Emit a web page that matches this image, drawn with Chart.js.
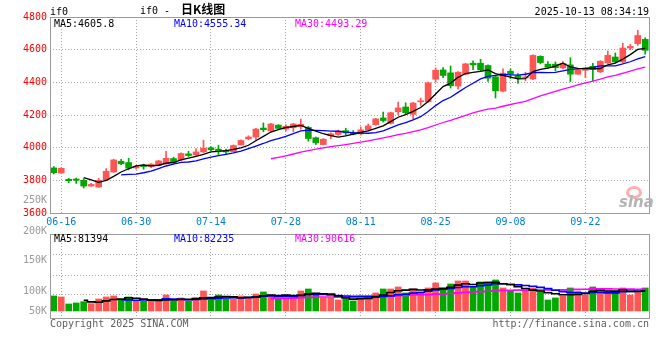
<!DOCTYPE html>
<html lang="zh">
  <head>
    <meta charset="UTF-8" />
    <title>if0 - 日K线图</title>
    <script src="https://cdn.jsdelivr.net/npm/chart.js"></script>
    <style>
      body { margin: 0; background: #fff; }
      #wrap {
        position: relative; width: 660px; height: 360px; overflow: hidden;
        font-family: "DejaVu Sans Mono", monospace; font-size: 10px; color: #000;
      }
      #priceChart { position: absolute; left: 0; top: 0; }
      #volChart { position: absolute; left: 0; top: 228px; }
      .txt { position: absolute; line-height: 12px; white-space: nowrap; }
      .cjk { font-family: "Noto Sans CJK SC", sans-serif; font-size: 12px; font-weight: bold; margin-left: 11px; }
      .blue { color: #0000ff; }
      .pink { color: #ff00ff; }
      .gray { color: #9a9a9a; }
      .foot { color: #606060; }
      #logo { position: absolute; left: 619px; top: 193px; font: italic bold 15px "DejaVu Sans", sans-serif; color: #b4b4b4; }
      #eye { position: absolute; left: 626px; top: 186px; width: 10px; height: 7px; border: 3px solid rgba(255, 110, 110, 0.55); border-radius: 50%; }
    </style>
  </head>
  <body>
    <div id="wrap">
      <canvas id="priceChart" width="660" height="230"></canvas>
      <canvas id="volChart" width="660" height="97"></canvas>

      <div class="txt" style="left:50px;top:6px">if0</div>
      <div class="txt" style="left:140px;top:3px">if0 -<span class="cjk">日K线图</span></div>
      <div class="txt" style="right:11px;top:6px">2025-10-13 08:34:19</div>

      <div class="txt" style="left:54px;top:18px">MA5:4605.8</div>
      <div class="txt blue" style="left:174px;top:18px">MA10:4555.34</div>
      <div class="txt pink" style="left:295px;top:18px">MA30:4493.29</div>

      <div id="eye"></div>
      <div id="logo">sina</div>

      <div class="txt gray" style="right:613px;top:194px">250K</div>
      <div class="txt gray" style="right:613px;top:225px">200K</div>
      <div class="txt gray" style="right:613px;top:254px">150K</div>
      <div class="txt gray" style="right:613px;top:285px">100K</div>
      <div class="txt gray" style="right:613px;top:305px">50K</div>

      <div class="txt" style="left:54px;top:233px">MA5:81394</div>
      <div class="txt blue" style="left:174px;top:233px">MA10:82235</div>
      <div class="txt pink" style="left:295px;top:233px">MA30:90616</div>

      <div class="txt foot" style="left:50px;top:318px">Copyright 2025 SINA.COM</div>
      <div class="txt foot" style="right:11px;top:318px">http://finance.sina.com.cn</div>
    </div>

    <script>
      // trading days 06-13 .. 10-10
      const dates = [
        "06-13", "06-16", "06-17", "06-18", "06-19", "06-20", "06-23", "06-24", "06-25", "06-26", "06-27", "06-30",
        "07-01", "07-02", "07-03", "07-04", "07-07", "07-08", "07-09", "07-10", "07-11", "07-14", "07-15", "07-16",
        "07-17", "07-18", "07-21", "07-22", "07-23", "07-24", "07-25", "07-28", "07-29", "07-30", "07-31",
        "08-01", "08-04", "08-05", "08-06", "08-07", "08-08", "08-11", "08-12", "08-13", "08-14", "08-15", "08-18",
        "08-19", "08-20", "08-21", "08-22", "08-25", "08-26", "08-27", "08-28", "08-29",
        "09-01", "09-02", "09-03", "09-04", "09-05", "09-08", "09-09", "09-10", "09-11", "09-12", "09-15", "09-16",
        "09-17", "09-18", "09-19", "09-22", "09-23", "09-24", "09-25", "09-26", "09-29", "09-30",
        "10-09", "10-10",
      ];
      const tickDates = ["06-16", "06-30", "07-14", "07-28", "08-11", "08-25", "09-08", "09-22"];

      const opens = [
        3876, 3845, 3806, 3808, 3800, 3765, 3759, 3802, 3851, 3917,
        3909, 3876, 3892, 3884, 3892, 3903, 3933, 3925, 3962, 3956,
        3974, 3999, 3991, 3983, 3976, 4017, 4054, 4065, 4120, 4102,
        4138, 4114, 4122, 4128, 4124, 4061, 4019, 4073, 4081, 4104,
        4094, 4084, 4109, 4141, 4182, 4149, 4220, 4249, 4204, 4281,
        4281, 4419, 4476, 4458, 4377, 4450, 4517, 4517, 4503, 4434,
        4346, 4468, 4440, 4427, 4421, 4559, 4511, 4511, 4488, 4507,
        4450, 4474, 4498, 4464, 4519, 4555, 4525, 4610, 4637, 4663,
      ];
      const highs = [
        3884, 3876, 3812, 3814, 3810, 3782, 3812, 3872, 3929, 3929,
        3935, 3892, 3899, 3903, 3923, 3978, 3942, 3968, 3978, 3995,
        4046, 4005, 4015, 3991, 4017, 4048, 4073, 4118, 4151, 4149,
        4141, 4141, 4149, 4175, 4130, 4065, 4056, 4091, 4108, 4119,
        4105, 4127, 4145, 4180, 4218, 4218, 4279, 4275, 4277, 4304,
        4401, 4488, 4490, 4500, 4466, 4517, 4531, 4541, 4507, 4440,
        4482, 4482, 4454, 4462, 4568, 4563, 4527, 4525, 4527, 4551,
        4482, 4492, 4517, 4533, 4592, 4580, 4639, 4632, 4718, 4673,
      ];
      const lows = [
        3839, 3843, 3786, 3781, 3753, 3763, 3757, 3798, 3849, 3896,
        3864, 3868, 3868, 3878, 3888, 3899, 3903, 3921, 3946, 3950,
        3970, 3981, 3958, 3964, 3974, 4015, 4048, 4048, 4097, 4100,
        4110, 4102, 4097, 4114, 4040, 4019, 4017, 4054, 4075, 4076,
        4078, 4078, 4105, 4137, 4157, 4145, 4200, 4206, 4176, 4259,
        4277, 4401, 4429, 4365, 4358, 4446, 4478, 4470, 4405, 4304,
        4342, 4423, 4393, 4409, 4417, 4513, 4486, 4470, 4482, 4405,
        4448, 4429, 4407, 4460, 4515, 4521, 4521, 4600, 4626, 4572,
      ];
      const closes = [
        3847, 3874, 3798, 3800, 3765, 3775, 3800, 3855, 3925, 3901,
        3874, 3886, 3884, 3899, 3919, 3935, 3909, 3964, 3952, 3974,
        3997, 3987, 3978, 3974, 4013, 4044, 4065, 4114, 4110, 4145,
        4118, 4130, 4145, 4143, 4056, 4030, 4052, 4085, 4102, 4090,
        4082, 4109, 4133, 4176, 4166, 4214, 4243, 4214, 4273, 4285,
        4397, 4474, 4442, 4379, 4462, 4513, 4507, 4476, 4425, 4348,
        4456, 4452, 4425, 4431, 4565, 4521, 4492, 4490, 4517, 4450,
        4476, 4488, 4480, 4529, 4565, 4525, 4610, 4620, 4687, 4596,
      ];

      const ma5 = [
        null, null, null, null,
        3816.8, 3802.4, 3787.6, 3799, 3824, 3851.2, 3871, 3888.2, 3894, 3888.8,
        3892.4, 3904.6, 3909.2, 3925.2, 3935.8, 3946.8, 3959.2, 3974.8, 3977.6, 3982,
        3989.8, 3999.2, 4014.8, 4042, 4069.2, 4095.6, 4110.4, 4123.4, 4129.6, 4136.2,
        4118.4, 4100.8, 4085.2, 4073.2, 4065, 4071.8, 4082.2, 4093.6, 4103.2, 4118,
        4133.2, 4159.6, 4186.4, 4202.6, 4222, 4245.8, 4282.4, 4328.6, 4374.2, 4395.4,
        4430.8, 4454, 4460.6, 4467.4, 4476.6, 4453.8, 4442.4, 4431.4, 4421.2, 4422.4,
        4465.8, 4478.8, 4486.8, 4499.8, 4517, 4494, 4485, 4484.2, 4482.2, 4484.6,
        4507.6, 4517.4, 4541.8, 4569.8, 4601.4, 4607.6,
      ];
      const ma10 = [
        null, null, null, null, null, null, null, null, null,
        3834, 3836.7, 3837.9, 3846.5, 3856.4, 3871.8, 3887.8, 3898.7, 3909.6, 3912.3,
        3919.6, 3931.9, 3942, 3951.4, 3958.9, 3968.3, 3979.2, 3994.8, 4009.8, 4025.6,
        4042.7, 4054.8, 4069.1, 4085.8, 4102.7, 4107, 4105.6, 4104.3, 4101.4, 4100.6,
        4095.1, 4091.5, 4089.4, 4088.2, 4091.5, 4102.5, 4120.9, 4140, 4152.9, 4170,
        4189.5, 4221, 4257.5, 4288.4, 4308.7, 4338.3, 4368.2, 4394.6, 4420.8, 4436,
        4442.3, 4448.2, 4446, 4444.3, 4449.5, 4459.8, 4460.6, 4459.1, 4460.5, 4469.7,
        4479.9, 4481.9, 4485.5, 4491, 4500.8, 4500.8, 4501.2, 4513, 4526, 4543, 4557.6,
      ];
      const ma30 = [
        null, null, null, null, null, null, null, null, null, null,
        null, null, null, null, null, null, null, null, null, null,
        null, null, null, null, null, null, null, null, null,
        3932.1, 3941.1, 3949.7, 3961.2, 3972.7, 3982.4, 3990.9, 3999.3, 4006.9, 4012.8,
        4019.1, 4026.1, 4033.5, 4041.8, 4051, 4059.3, 4068.6, 4079.7, 4088, 4098.7,
        4109.1, 4122.4, 4138.7, 4154.1, 4167.6, 4182.6, 4198.2, 4213, 4225, 4235.5,
        4242.3, 4253.6, 4264.3, 4273.6, 4283.2, 4300.2, 4316.6, 4331.2, 4344.7, 4358.6,
        4370.6, 4383.7, 4396.3, 4407.9, 4419.7, 4433, 4443.3, 4455.6, 4469.1, 4482.9, 4493.3,
      ];

      const volumes = [
        61800, 57700, 28800, 33000, 38300, 30100, 49400, 57700, 61800, 44100,
        57700, 40000, 40000, 40000, 40000, 65900, 40000, 53600, 40000, 53600,
        82400, 44100, 65900, 49400, 49400, 61800, 53600, 70000, 78300, 65900,
        49400, 61800, 61800, 82400, 90600, 65900, 53600, 53600, 45300, 49400,
        41200, 61800, 61800, 74200, 90600, 90600, 98900, 74200, 90600, 78300,
        94800, 115400, 86500, 111200, 123600, 123600, 98900, 119500, 119500, 127700,
        94800, 82400, 74200, 82400, 94800, 78300, 45300, 53600, 61800, 94800,
        82400, 65900, 98900, 82400, 82400, 78300, 94800, 65900, 78300, 94800,
      ];
      const volMa5 = [
        null, null, null, null,
        43920, 37580, 35920, 41700, 47460, 48620, 54140, 52260, 48720, 44360,
        43540, 45180, 45180, 47900, 47900, 50620, 53920, 54740, 57200, 59080,
        58240, 54120, 56020, 56840, 62620, 65920, 63440, 65080, 63440, 64260,
        69200, 72500, 70860, 69220, 61800, 53560, 48620, 50260, 51900, 57680,
        65920, 75800, 83220, 85700, 88980, 86520, 87360, 90660, 93120, 97240,
        106300, 112060, 108760, 115360, 117020, 117840, 112080, 108780, 99720, 92300,
        85720, 82420, 75000, 70880, 66760, 66760, 67580, 71700, 80760, 84880,
        82400, 81580, 87360, 80760, 79940, 82420,
      ];
      const volMa10 = [
        null, null, null, null, null, null, null, null, null,
        46270, 45860, 44090, 45210, 45910, 46080, 49660, 48720, 48310, 46130,
        47080, 49550, 49960, 52550, 53490, 54430, 54020, 55380, 57020, 60850,
        62080, 58780, 60550, 60140, 63440, 67560, 67970, 67970, 66330, 63030,
        61380, 60560, 60560, 60560, 59740, 59740, 62210, 66740, 68800, 73330,
        76220, 81580, 86940, 89410, 93110, 96410, 99710, 99710, 104240, 107130,
        112070, 112070, 108770, 107540, 104660, 101780, 97250, 91890, 85300, 79530,
        76240, 75000, 73350, 75820, 75820, 74580, 74580, 79530, 80760, 82410, 82410,
      ];
      const volMa30 = [
        null, null, null, null, null, null, null, null, null, null,
        null, null, null, null, null, null, null, null, null, null,
        null, null, null, null, null, null, null, null, null,
        51810, 51400, 51530, 52630, 54280, 56020, 57220, 57360, 57220, 56670,
        56850, 56300, 57020, 57750, 58890, 60580, 61400, 63360, 64050, 65740,
        66560, 66970, 69350, 70040, 72100, 74570, 76630, 78140, 79790, 81160,
        83220, 84740, 85420, 85840, 85840, 85980, 86390, 86110, 86110, 86660,
        88180, 89550, 89690, 90920, 91200, 90920, 90510, 90380, 90100, 89690, 90240,
      ];

      const RED = "#ff5555";
      const GREEN = "#00a800";
      const GRID = "#a6a6a6";
      const FRAME = "#9a9a9a";

      Chart.defaults.font.family = '"DejaVu Sans Mono", monospace';
      Chart.defaults.font.size = 10;
      Chart.defaults.animation = false;
      Chart.defaults.events = [];

      const candleColor = (ctx) => (closes[ctx.dataIndex] >= opens[ctx.dataIndex] ? RED : GREEN);
      const xGridColor = (ctx) => (tickDates.includes(dates[ctx.index]) ? GRID : "rgba(0,0,0,0)");

      // solid box around the plot area
      const framePlugin = {
        id: "frame",
        afterDraw(chart) {
          const { ctx, chartArea: a } = chart;
          ctx.save();
          ctx.setLineDash([]);
          ctx.lineWidth = 1;
          ctx.strokeStyle = FRAME;
          ctx.strokeRect(Math.round(a.left) + 0.5, Math.round(a.top) + 0.5, Math.round(a.right - a.left), Math.round(a.bottom - a.top));
          ctx.restore();
        },
      };

      function maLine(data, color, width, stepped) {
        return {
          type: "line",
          data: data,
          borderColor: color,
          borderWidth: width,
          pointRadius: 0,
          tension: 0,
          stepped: stepped,
          order: 0,
        };
      }

      const xAxis = (showLabels, height) => ({
        offset: true,
        grid: { offset: false, drawTicks: false, color: xGridColor, lineWidth: 1 },
        border: { display: false, dash: [1, 2] },
        ticks: {
          display: showLabels,
          autoSkip: false,
          maxRotation: 0,
          minRotation: 0,
          padding: 3,
          color: "#0080d0",
          callback: (v, i) => (tickDates.includes(dates[i]) ? dates[i] : ""),
        },
        afterFit: (s) => { s.height = height; },
      });

      new Chart(document.getElementById("priceChart"), {
        type: "bar",
        data: {
          labels: dates,
          datasets: [
            maLine(ma5, "#000000", 1.3, false),
            maLine(ma10, "#0000ff", 1.3, false),
            maLine(ma30, "#ff00ff", 1.3, false),
            {
              label: "body",
              data: opens.map((o, i) => [o, closes[i]]),
              backgroundColor: candleColor,
              barThickness: 6,
              minBarLength: 1,
              grouped: false,
              borderWidth: 0,
              order: 1,
            },
            {
              label: "wick",
              data: lows.map((l, i) => [l, highs[i]]),
              backgroundColor: candleColor,
              barThickness: 1,
              grouped: false,
              borderWidth: 0,
              order: 2,
            },
          ],
        },
        options: {
          responsive: false,
          layout: { padding: { left: 0, right: 11, top: 17, bottom: 0 } },
          plugins: { legend: { display: false }, tooltip: { enabled: false } },
          scales: {
            x: xAxis(true, 17),
            y: {
              min: 3600,
              max: 4800,
              ticks: { stepSize: 200, color: "#ff0000", padding: 3, callback: (v) => String(v) },
              grid: { color: GRID, drawTicks: false },
              border: { display: false, dash: [1, 2] },
              afterFit: (s) => { s.width = 50; },
            },
          },
        },
        plugins: [framePlugin],
      });

      new Chart(document.getElementById("volChart"), {
        type: "bar",
        data: {
          labels: dates,
          datasets: [
            maLine(volMa5, "#000000", 1.6, "middle"),
            maLine(volMa10, "#0000ff", 1.6, "middle"),
            maLine(volMa30, "#ff00ff", 1.6, "middle"),
            {
              label: "volume",
              data: volumes,
              backgroundColor: candleColor,
              barThickness: 6,
              borderWidth: 0,
              order: 1,
            },
          ],
        },
        options: {
          responsive: false,
          layout: { padding: { left: 0, right: 11, top: 6, bottom: 7 } },
          plugins: { legend: { display: false }, tooltip: { enabled: false } },
          scales: {
            x: xAxis(false, 0),
            y: {
              min: -29000,
              max: 317000,
              ticks: { display: false },
              grid: { color: GRID, drawTicks: false },
              border: { display: false, dash: [1, 2] },
              afterBuildTicks: (s) => { s.ticks = [66000, 148000, 231000].map((v) => ({ value: v })); },
              afterFit: (s) => { s.width = 50; },
            },
          },
        },
        plugins: [framePlugin],
      });
    </script>
  </body>
</html>
